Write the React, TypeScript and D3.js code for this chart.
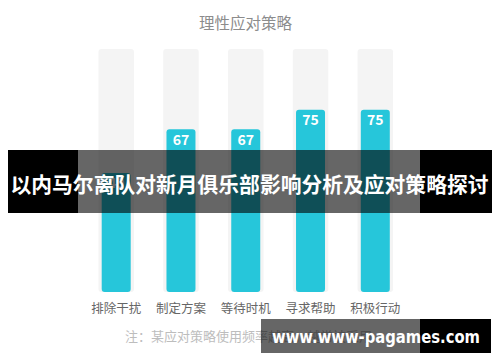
import React from "react";
import * as d3 from "d3";

const title = "理性应对策略";
const categories = ["排除干扰", "制定方案", "等待时机", "寻求帮助", "积极行动"];
const values = [49, 67, 67, 75, 75];
const maxValue = 100;
const footnote = "注：某应对策略使用频率越高，越常被采用";
const bannerText = "以内马尔离队对新月俱乐部影响分析及应对策略探讨";
const watermarkText = "www.www-pagames.com";

const W = 500;
const H = 362;
const FONT = "'Noto Sans CJK SC', 'Noto Sans', sans-serif";

export default function App() {
  const x = d3.scalePoint<string>().domain(categories).range([116.2, 375.3]);
  const y = d3.scaleLinear().domain([0, maxValue]).range([292, 49]);
  const trackW = 35.5;
  const barW = 29;

  return (
    <svg
      width={W}
      height={H}
      style={{ position: "absolute", left: 0, top: 0, display: "block" }}
    >
      <rect x={0} y={0} width={W} height={H} fill="#fff" />
      <text
        x={245.5}
        y={22}
        textAnchor="middle"
        dominantBaseline="central"
        fontFamily={FONT}
        fontSize={15.5}
        fill="#8c8c8c"
      >
        {title}
      </text>
      {categories.map((c, i) => {
        const cx = x(c)!;
        return (
          <g key={c}>
            <rect
              x={cx - trackW / 2}
              y={y(maxValue)}
              width={trackW}
              height={y(0) - y(maxValue)}
              rx={3}
              fill="#f4f4f4"
            />
            <rect
              x={cx - barW / 2}
              y={y(values[i])}
              width={barW}
              height={y(0) - y(values[i])}
              rx={3}
              fill="#26C6DA"
            />
            <text
              x={cx}
              y={y(values[i]) + 9.5}
              textAnchor="middle"
              dominantBaseline="central"
              fontFamily={FONT}
              fontWeight="bold"
              fontSize={14}
              fill="#fff"
            >
              {values[i]}
            </text>
            <text
              x={cx}
              y={307.5}
              textAnchor="middle"
              dominantBaseline="central"
              fontFamily={FONT}
              fontSize={12.5}
              fill="#666"
            >
              {c}
            </text>
          </g>
        );
      })}
      <text
        x={125}
        y={335.5}
        dominantBaseline="central"
        fontFamily={FONT}
        fontSize={13}
        fill="#bdbdbd"
      >
        {footnote}
      </text>

      {/* banner */}
      <rect x={8} y={150} width={70} height={63} fill="#000" />
      <rect x={420} y={150} width={72} height={63} fill="#000" />
      <rect x={78} y={150} width={342} height={63} fill="#000" fillOpacity={0.6} />
      <text
        x={249.5}
        y={183}
        textAnchor="middle"
        dominantBaseline="central"
        fontFamily={FONT}
        fontWeight="bold"
        fontSize={21}
        textLength={478}
        lengthAdjust="spacingAndGlyphs"
        fill="#fff"
      >
        {bannerText}
      </text>

      {/* watermark */}
      <rect x={261} y={319} width={159} height={34} fill="#000" fillOpacity={0.6} />
      <rect x={420} y={319} width={71} height={34} fill="#000" />
      <text
        x={376}
        y={336}
        textAnchor="middle"
        dominantBaseline="central"
        fontFamily="'DejaVu Sans', sans-serif"
        fontWeight="bold"
        fontSize={18}
        textLength={208}
        lengthAdjust="spacingAndGlyphs"
        fill="#fff"
      >
        {watermarkText}
      </text>
    </svg>
  );
}
